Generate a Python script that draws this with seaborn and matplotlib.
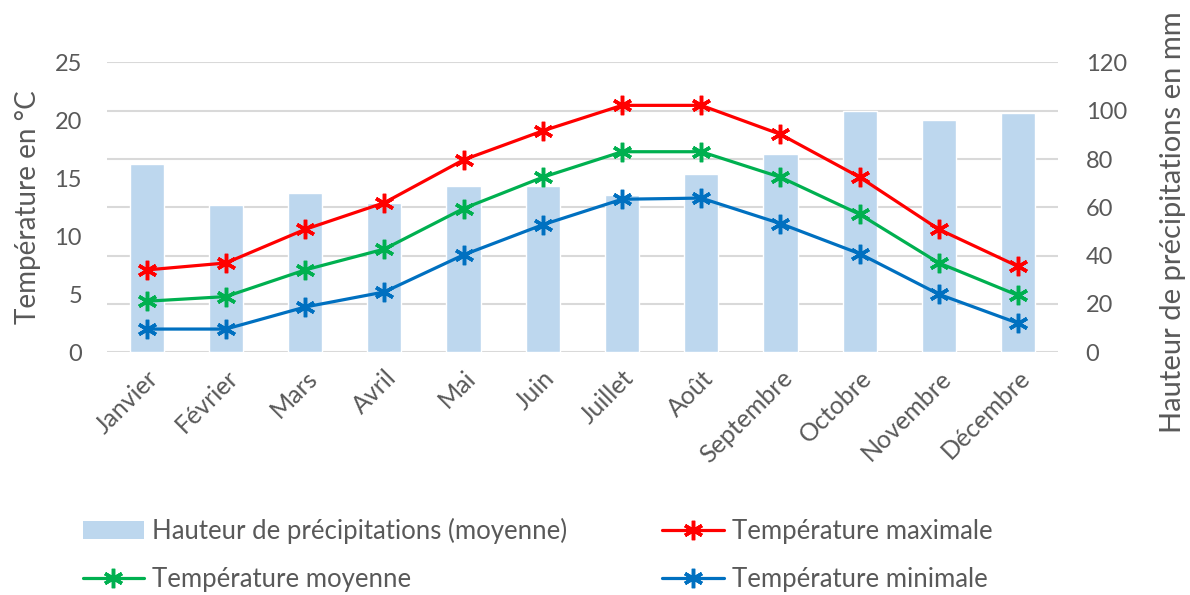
import numpy as np
import pandas as pd
import matplotlib
matplotlib.use("Agg")
import matplotlib.pyplot as plt
import seaborn as sns
from matplotlib.patches import Patch
from matplotlib.lines import Line2D

months = ["Janvier", "Février", "Mars", "Avril", "Mai", "Juin", "Juillet",
          "Août", "Septembre", "Octobre", "Novembre", "Décembre"]
precip = [78, 61, 66, 62, 69, 69, 65, 74, 82, 100, 96, 99]
t_max = [7.1, 7.7, 10.6, 12.9, 16.6, 19.1, 21.3, 21.3, 18.8, 15.1, 10.6, 7.4]
t_mean = [4.4, 4.8, 7.1, 8.9, 12.4, 15.1, 17.3, 17.3, 15.1, 11.9, 7.7, 4.9]
t_min = [2.0, 2.0, 3.9, 5.2, 8.4, 11.0, 13.2, 13.3, 11.1, 8.5, 5.0, 2.5]
left_ticks = [0, 5, 10, 15, 20, 25]
right_ticks = [0, 20, 40, 60, 80, 100, 120]

df = pd.DataFrame({"mois": months, "precip": precip, "tmax": t_max,
                   "tmoy": t_mean, "tmin": t_min})

sns.set_theme(style="white")
plt.rcParams["font.family"] = ["Lato", "DejaVu Sans"]
TXT = "#595959"
BAR = "#BDD7EE"
RED = "#FF0000"
GREEN = "#00B050"
BLUE = "#0070C0"
GRID = "#D9D9D9"

fig = plt.figure(figsize=(11.9, 5.95), dpi=100)
ax1 = fig.add_axes([0.0899, 0.408, 0.799, 0.487])
sns.barplot(data=df, x="mois", y="precip", ax=ax1, color=BAR, width=0.43,
            saturation=1, zorder=2)

ax2 = ax1.twinx()
mk = (6, 2, 0)
MS = 14
MEW = 2.5
LW = 2.3
for col, c in [("tmax", RED), ("tmoy", GREEN), ("tmin", BLUE)]:
    sns.lineplot(data=df, x="mois", y=col, ax=ax2, color=c, linewidth=LW,
                 marker=mk, markersize=MS, markeredgewidth=MEW,
                 markeredgecolor=c, sort=False)

# precipitation axis on the right
ax1.set_ylim(0, 120)
ax1.set_yticks(right_ticks)
ax1.set_xlim(-0.5, 11.5)
ax1.yaxis.tick_right()
ax1.yaxis.set_label_position("right")
ax1.set_ylabel("Hauteur de précipitations en mm", fontsize=21, color=TXT)
ax1.yaxis.set_label_coords(1.108, 0.449)
ax1.set_xlabel("")
ax1.grid(axis="y", color=GRID, linewidth=1.5, zorder=0)
ax1.set_axisbelow(True)

# temperature axis on the left
ax2.set_ylim(0, 25)
ax2.set_yticks(left_ticks)
ax2.yaxis.tick_left()
ax2.yaxis.set_label_position("left")
ax2.set_ylabel("Température en °C", fontsize=20, color=TXT, labelpad=10)
ax2.set_xlabel("")
ax2.set_xlim(-0.5, 11.5)
ax2.grid(False)

for a in (ax1, ax2):
    for s in a.spines.values():
        s.set_visible(False)
    a.tick_params(axis="y", length=0, labelsize=17, labelcolor=TXT)
    a.tick_params(axis="x", length=0)
ax1.tick_params(axis="y", pad=20)
ax2.tick_params(axis="y", pad=18)

ax1.set_xticks(range(len(months)))
ax1.set_xticklabels(months, rotation=45, ha="right", rotation_mode="anchor",
                    fontsize=18, color=TXT)
ax1.tick_params(axis="x", pad=10)

handles = [
    Patch(facecolor=BAR, edgecolor="none"),
    Line2D([], [], color=GREEN, linewidth=LW, marker=mk, markersize=MS, markeredgewidth=MEW),
    Line2D([], [], color=RED, linewidth=LW, marker=mk, markersize=MS, markeredgewidth=MEW),
    Line2D([], [], color=BLUE, linewidth=LW, marker=mk, markersize=MS, markeredgewidth=MEW),
]
labels = ["Hauteur de précipitations (moyenne)", "Température moyenne",
          "Température maximale", "Température minimale"]
leg = fig.legend(handles, labels, ncol=2, loc="lower left",
                 bbox_to_anchor=(0.05, -0.034), frameon=False, fontsize=18.5,
                 handlelength=2.4, handletextpad=0.3, columnspacing=3.7,
                 labelspacing=0.9, labelcolor=TXT)

fig.savefig("out.png", dpi=100)
